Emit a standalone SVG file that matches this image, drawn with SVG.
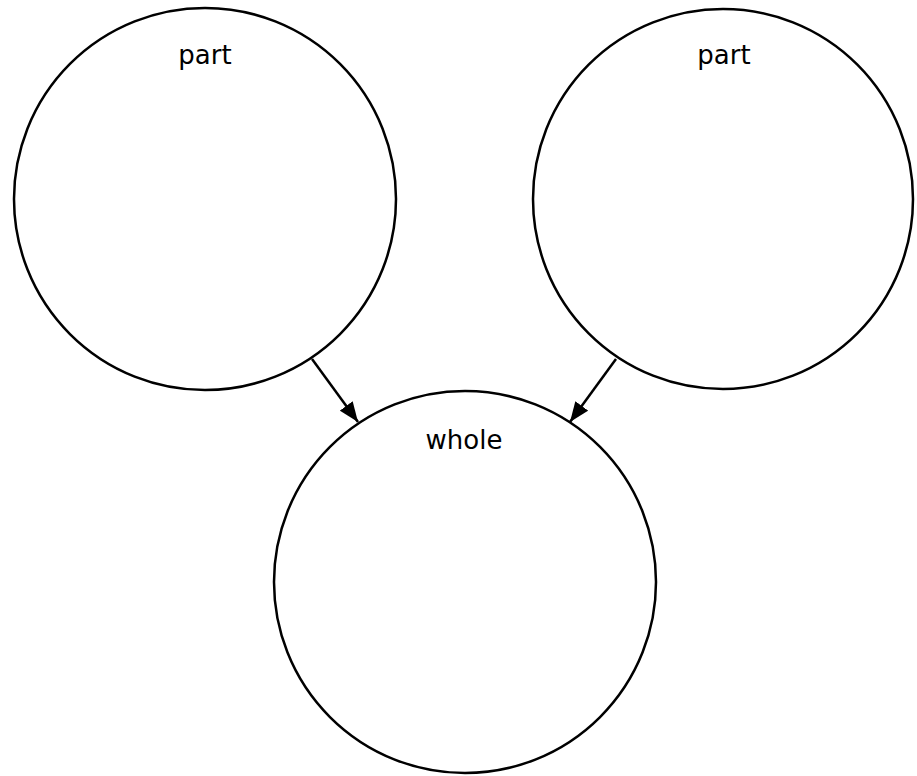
<svg xmlns="http://www.w3.org/2000/svg" width="917" height="776" viewBox="0 0 917 776">
<style>
.node{fill:#fff;stroke:#000;stroke-width:2.5}
.lbl{font-family:"DejaVu Sans",sans-serif;font-size:26px;fill:#000;text-anchor:middle}
.edge{stroke:#000;stroke-width:2.5;fill:none}
</style>
<defs>
<marker id="arr" viewBox="0 0 20 16" refX="20" refY="8" markerWidth="20" markerHeight="16" markerUnits="userSpaceOnUse" orient="auto">
<path d="M0,0 L20,8 L0,16 Z" fill="#000"/>
</marker>
</defs>
<rect width="917" height="776" fill="#fff"/>
<g id="part1"><circle class="node" cx="205" cy="199" r="191"/><text class="lbl" x="205" y="64">part</text></g>
<g id="part2"><circle class="node" cx="723" cy="199" r="190"/><text class="lbl" x="724" y="64">part</text></g>
<g id="whole"><circle class="node" cx="465" cy="582" r="191"/><text class="lbl" x="464" y="449">whole</text></g>
<g id="connectors">
<line class="edge" x1="312" y1="359" x2="358" y2="422" marker-end="url(#arr)"/>
<line class="edge" x1="616" y1="359" x2="570" y2="422" marker-end="url(#arr)"/>
</g>
</svg>
